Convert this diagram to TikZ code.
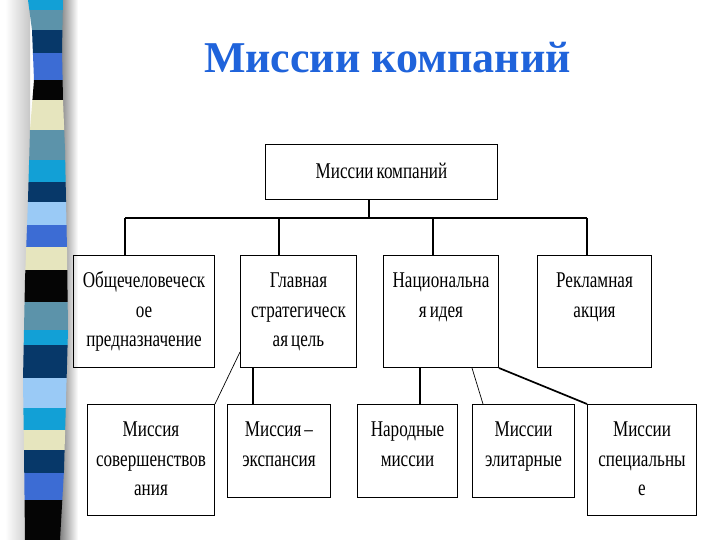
\documentclass[tikz,border=0pt]{standalone}
\usepackage{fontspec}
\setmainfont{Liberation Serif}
\newfontfamily\boxfont[FakeStretch=0.76]{Liberation Serif}
\usetikzlibrary{calc}

\definecolor{titleblue}{HTML}{1F63DB}
\definecolor{cyanS}{HTML}{12A0D6}
\definecolor{tealS}{HTML}{5C93AA}
\definecolor{navyS}{HTML}{073869}
\definecolor{royalS}{HTML}{3C6CD4}
\definecolor{creamS}{HTML}{E6E5BE}
\definecolor{lightS}{HTML}{9ACAF6}
\definecolor{blackS}{HTML}{050505}

\tikzset{
  mission/.style={draw, line width=1pt, inner sep=0pt, align=center, anchor=north west,
    font=\boxfont\fontsize{22.5}{29.5}\selectfont,
    execute at begin node={\spaceskip=3pt\relax}},
  link/.style={line width=1.2pt},
  thinlink/.style={line width=0.7pt}
}

\begin{document}
\begin{tikzpicture}[x=1pt,y=-1pt]
\useasboundingbox (0,0) rectangle (720,540);
\fill[white] (0,0) rectangle (720,540);

% striped band on the left
\shade[left color=white, right color=black!22] (5,0) rectangle (30,540);
\shade[left color=black!55, right color=white] (58,0) rectangle (78,540);
\begin{scope}
\clip (28,0) -- (63,0) -- (62,50) -- (63,100) -- (65,150) -- (67,250) -- (68,330)
  -- (66,400) -- (64,470) -- (60,540) -- (25,540) -- (24,450) -- (23,380)
  -- (25,280) -- (28,200) -- (30,130) -- (34,80) -- (32,30) -- cycle;
\foreach \ya/\yb/\col in {0/10/cyanS, 10/30/tealS, 30/53/navyS, 53/80/royalS,
    80/100/blackS, 100/130/creamS, 130/160/tealS, 160/182/cyanS, 182/202/navyS,
    202/225/lightS, 225/247/royalS, 247/270/creamS, 270/302/blackS, 302/330/tealS,
    330/345/cyanS, 345/378/navyS, 378/408/lightS, 408/430/cyanS, 430/450/creamS,
    450/473/navyS, 473/500/royalS, 500/540/blackS}
  \fill[\col] (0,\ya) rectangle (80,\yb);
\end{scope}

\node[font=\fontsize{44}{50}\selectfont\bfseries, text=titleblue, anchor=base] (title) at (387.5,73) {Миссии компаний};

\node[mission, text width=232pt, text height=34pt, text depth=21pt] (top) at (265,144) {Миссии компаний};

\node[mission, text width=141pt, text height=32pt, text depth=80pt] (g1) at (73,255) {Общечеловеческ\\ое\\предназначение};
\node[mission, text width=116pt, text height=32pt, text depth=80pt] (g2) at (240,255) {Главная\\стратегическ\\ая цель};
\node[mission, text width=115pt, text height=32pt, text depth=80pt] (g3) at (383,255) {Национальна\\я идея};
\node[mission, text width=114pt, text height=32pt, text depth=80pt] (g4) at (537,255) {Рекламная\\акция};

\node[mission, text width=127pt, text height=32pt, text depth=79pt] (b1) at (87,404) {Миссия\\совершенствов\\ания};
\node[mission, text width=103pt, text height=32pt, text depth=61pt] (b2) at (227,404) {Миссия –\\экспансия};
\node[mission, text width=100pt, text height=32pt, text depth=61pt] (b3) at (357,404) {Народные\\миссии};
\node[mission, text width=102pt, text height=32pt, text depth=61pt] (b4) at (472,404) {Миссии\\элитарные};
\node[mission, text width=109pt, text height=32pt, text depth=79pt] (b5) at (587,404) {Миссии\\специальны\\е};

% bus under the top box
\coordinate (hub) at (369,218);
\coordinate (d1) at (125,218);
\coordinate (d2) at (279,218);
\coordinate (d3) at (433,218);
\coordinate (d4) at (587,218);
\draw[link] (top.south -| hub) -- (hub);
\draw[link] (d1) -- (d4);
\draw[link] (d1) -- (d1 |- g1.north);
\draw[link] (d2) -- (d2 |- g2.north);
\draw[link] (d3) -- (d3 |- g3.north);
\draw[link] (d4) -- (d4 |- g4.north);

% second level links
\draw[thinlink] ($(g2.south west)+(0,-16)$) -- (b1.north east);
\draw[link] ($(b2.north west)+(26,0)$) coordinate (v2) -- (v2 |- g2.south);
\draw[link] ($(b3.north west)+(63,0)$) coordinate (v3) -- (v3 |- g3.south);
\draw[thinlink] ($(g3.south west)+(89,0)$) -- ($(b4.north west)+(11,0)$);
\draw[line width=1.7pt] (g3.south east) -- (b5.north west);
\end{tikzpicture}
\end{document}
